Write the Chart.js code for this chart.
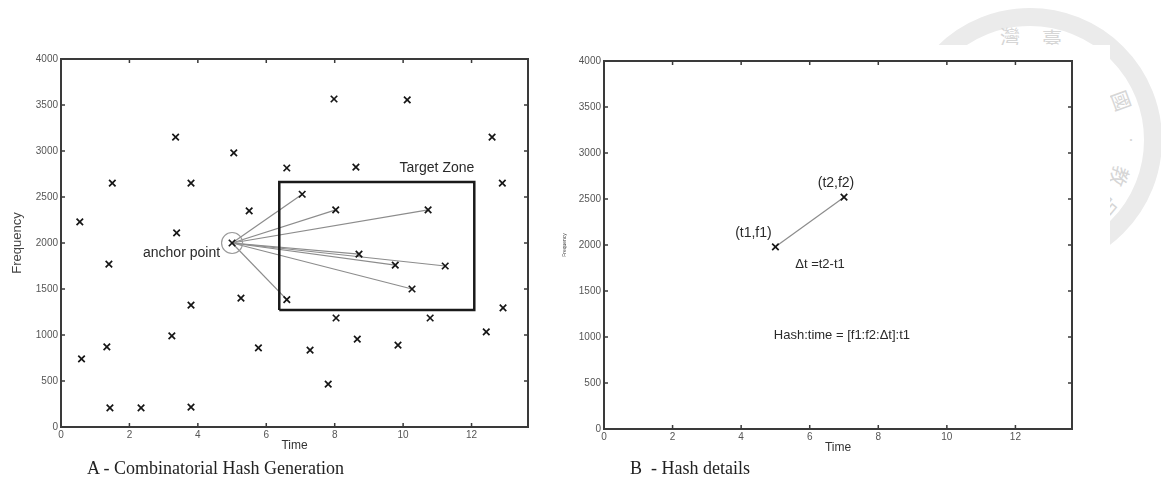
<!DOCTYPE html>
<html>
<head>
<meta charset="utf-8">
<script src="https://cdn.jsdelivr.net/npm/chart.js@4.4.1/dist/chart.umd.min.js"></script>
<style>
    html, body { margin: 0; padding: 0; background: #fff; }
    body { width: 1161px; height: 481px; position: relative; overflow: hidden; }
    .box { position: absolute; }
    #boxA { left: 0; top: 0; width: 560px; height: 481px; }
    #boxB { left: 560px; top: 45px; width: 550px; height: 436px; background: #fff; }
    .seal { position: absolute; left: 898px; top: 8px; width: 228px; height: 228px;
            border: 18px solid #ebebeb; border-radius: 50%; }
    .seal-ch { position: absolute; color: #d6d6d6; font-family: "Noto Sans CJK TC", sans-serif; font-size: 20px; }
    .caption { position: absolute; top: 458px; font-family: "Liberation Serif", "Times New Roman", serif;
               font-size: 18px; color: #222; white-space: pre; }
</style>
</head>
<body>
<div class="seal"></div>
<div class="seal-ch" style="left:1000px;top:22px;">灣</div>
<div class="seal-ch" style="left:1042px;top:24px;">臺</div>
<div class="seal-ch" style="left:1112px;top:86px;transform:rotate(70deg);">國</div>
<div class="seal-ch" style="left:1126px;top:132px;font-size:10px;">•</div>
<div class="seal-ch" style="left:1110px;top:162px;transform:rotate(110deg);">教</div>
<div class="seal-ch" style="left:1098px;top:192px;transform:rotate(130deg);">品</div>

<div class="box" id="boxA"><canvas id="chartA"></canvas></div>
<div class="box" id="boxB"><canvas id="chartB"></canvas></div>
<div class="caption" style="left:87px;">A - Combinatorial Hash Generation</div>
<div class="caption" style="left:630px;">B  - Hash details</div>

<script>
// axis ticks
const timeTicks = [0, 2, 4, 6, 8, 10, 12];
const freqTicks = [0, 500, 1000, 1500, 2000, 2500, 3000, 3500, 4000];
const TIME_MAX = 13.65;

// spectrogram peaks outside the target zone
const peakTimes = [0.55, 1.5, 3.35, 3.8, 5.05, 6.6, 5.5, 3.38, 1.4, 0.6, 1.34, 1.43, 2.34, 3.8, 3.24, 3.8,
    5.26, 5.77, 7.98, 10.12, 12.6, 8.62, 12.9, 8.04, 10.79, 12.92, 12.43, 7.28, 8.66, 9.85, 7.81];
const peakFreqs = [2230, 2650, 3150, 2650, 2980, 2815, 2350, 2110, 1770, 740, 870, 207, 207, 217, 990, 1325,
    1400, 860, 3565, 3555, 3150, 2825, 2650, 1185, 1185, 1295, 1035, 835, 955, 890, 467];

// anchor point and the peaks inside its target zone
const anchorTime = 5.0;
const anchorFreq = 2000;
const targetTimes = [7.05, 8.03, 10.73, 8.71, 9.77, 11.23, 10.26, 6.6];
const targetFreqs = [2530, 2360, 2360, 1880, 1760, 1750, 1500, 1385];

// target zone bounds
const zoneTimes = [6.38, 12.08];
const zoneFreqs = [1272, 2663];

// hash detail pair
const pairTimes = [5.0, 7.0];
const pairFreqs = [1980, 2520];

const FONT = '"Liberation Sans", Arial, sans-serif';
Chart.defaults.font.family = FONT;

const pts = (xs, ys) => xs.map((x, i) => ({ x, y: ys[i] }));

// frame with inward ticks on all four sides
const framePlugin = {
    id: 'frame',
    afterDatasetsDraw(chart) {
        const { ctx, chartArea: a, scales: { x, y } } = chart;
        const len = 4;
        ctx.save();
        ctx.strokeStyle = '#3a3a3a';
        ctx.lineWidth = 1.5;
        x.ticks.forEach(t => {
            const px = x.getPixelForValue(t.value);
            if (px <= a.left + 1 || px >= a.right - 1) return;
            ctx.beginPath();
            ctx.moveTo(px, a.bottom); ctx.lineTo(px, a.bottom - len);
            ctx.moveTo(px, a.top); ctx.lineTo(px, a.top + len);
            ctx.stroke();
        });
        y.ticks.forEach(t => {
            const py = y.getPixelForValue(t.value);
            if (py <= a.top + 1 || py >= a.bottom - 1) return;
            ctx.beginPath();
            ctx.moveTo(a.left, py); ctx.lineTo(a.left + len, py);
            ctx.moveTo(a.right, py); ctx.lineTo(a.right - len, py);
            ctx.stroke();
        });
        ctx.lineWidth = 2;
        ctx.strokeRect(a.left, a.top, a.right - a.left, a.bottom - a.top);
        ctx.restore();
    }
};

// text notes placed at data positions
const notesPlugin = {
    id: 'notes',
    afterDraw(chart, args, opts) {
        const { ctx, scales: { x, y } } = chart;
        ctx.save();
        ctx.fillStyle = '#2a2a2a';
        ctx.textBaseline = 'middle';
        (opts.items || []).forEach(n => {
            ctx.font = `${n.size || 14}px ${FONT}`;
            ctx.textAlign = n.align || 'center';
            ctx.fillText(n.text, x.getPixelForValue(n.x) + (n.dx || 0), y.getPixelForValue(n.y) + (n.dy || 0));
        });
        ctx.restore();
    }
};

function axes(yWidth, yTitleSize, yTitlePad) {
    return {
        x: {
            type: 'linear', min: 0, max: TIME_MAX,
            afterBuildTicks: s => { s.ticks = timeTicks.map(v => ({ value: v })); },
            afterFit: s => { s.height = 26; },
            grid: { display: false, drawTicks: false },
            border: { display: false },
            ticks: { font: { size: 10 }, color: '#555', padding: 2, maxRotation: 0, callback: v => String(v) },
            title: { display: true, text: 'Time', font: { size: 12 }, color: '#333', padding: 0 }
        },
        y: {
            type: 'linear', min: 0, max: 4000,
            afterBuildTicks: s => { s.ticks = freqTicks.map(v => ({ value: v })); },
            afterFit: s => { s.width = yWidth; },
            grid: { display: false, drawTicks: false },
            border: { display: false },
            ticks: { font: { size: 10 }, color: '#555', padding: 3, callback: v => String(v) },
            title: { display: true, text: 'Frequency', font: { size: yTitleSize }, color: '#444',
                     padding: { top: yTitlePad, bottom: 0 } }
        }
    };
}

const baseOpts = {
    responsive: true,
    maintainAspectRatio: false,
    animation: false,
    events: [],
};

// Chart A: combinatorial hash generation
const linkSets = targetTimes.map((t, i) => ({
    data: [{ x: anchorTime, y: anchorFreq }, { x: t, y: targetFreqs[i] }],
    showLine: true, borderColor: '#8c8c8c', borderWidth: 1.2, pointRadius: 0, order: 3
}));

new Chart(document.getElementById('chartA'), {
    type: 'scatter',
    data: {
        datasets: [
            ...linkSets,
            {
                data: [
                    { x: zoneTimes[0], y: zoneFreqs[0] }, { x: zoneTimes[1], y: zoneFreqs[0] },
                    { x: zoneTimes[1], y: zoneFreqs[1] }, { x: zoneTimes[0], y: zoneFreqs[1] },
                    { x: zoneTimes[0], y: zoneFreqs[0] }
                ],
                showLine: true, borderColor: '#1a1a1a', borderWidth: 2.5, pointRadius: 0, order: 2
            },
            {
                data: [{ x: anchorTime, y: anchorFreq }],
                pointStyle: 'circle', pointRadius: 10.5, borderColor: '#9a9a9a',
                backgroundColor: 'rgba(0,0,0,0)', borderWidth: 1.2, order: 1
            },
            {
                data: [...pts(peakTimes, peakFreqs), { x: anchorTime, y: anchorFreq }, ...pts(targetTimes, targetFreqs)],
                pointStyle: 'crossRot', pointRadius: 4.6, borderColor: '#161616', borderWidth: 1.7, order: 0
            }
        ]
    },
    options: {
        ...baseOpts,
        layout: { padding: { left: 0, top: 59, right: 32, bottom: 28 } },
        scales: axes(61, 13, 10),
        plugins: {
            legend: { display: false },
            tooltip: { enabled: false },
            notes: {
                items: [
                    { text: 'anchor point', x: anchorTime, y: anchorFreq, dx: -12, dy: 10, align: 'right' },
                    { text: 'Target Zone', x: zoneTimes[1], y: zoneFreqs[1], dx: 0, dy: -14, align: 'right' }
                ]
            }
        }
    },
    plugins: [framePlugin, notesPlugin]
});

// Chart B: hash details
new Chart(document.getElementById('chartB'), {
    type: 'scatter',
    data: {
        datasets: [
            {
                data: pts(pairTimes, pairFreqs),
                showLine: true, borderColor: '#8c8c8c', borderWidth: 1.2,
                pointStyle: 'crossRot', pointRadius: 4.6, pointBorderColor: '#161616', pointBorderWidth: 1.7
            }
        ]
    },
    options: {
        ...baseOpts,
        layout: { padding: { left: 0, top: 16, right: 38, bottom: 26 } },
        scales: axes(44, 5, 2),
        plugins: {
            legend: { display: false },
            tooltip: { enabled: false },
            notes: {
                items: [
                    { text: '(t1,f1)', x: pairTimes[0], y: pairFreqs[0], dx: -22, dy: -14 },
                    { text: '(t2,f2)', x: pairTimes[1], y: pairFreqs[1], dx: -8, dy: -14 },
                    { text: 'Δt =t2-t1', x: 6.3, y: 1790, size: 13 },
                    { text: 'Hash:time = [f1:f2:Δt]:t1', x: 6.94, y: 1022, size: 13 }
                ]
            }
        }
    },
    plugins: [framePlugin, notesPlugin]
});
</script>
</body>
</html>
